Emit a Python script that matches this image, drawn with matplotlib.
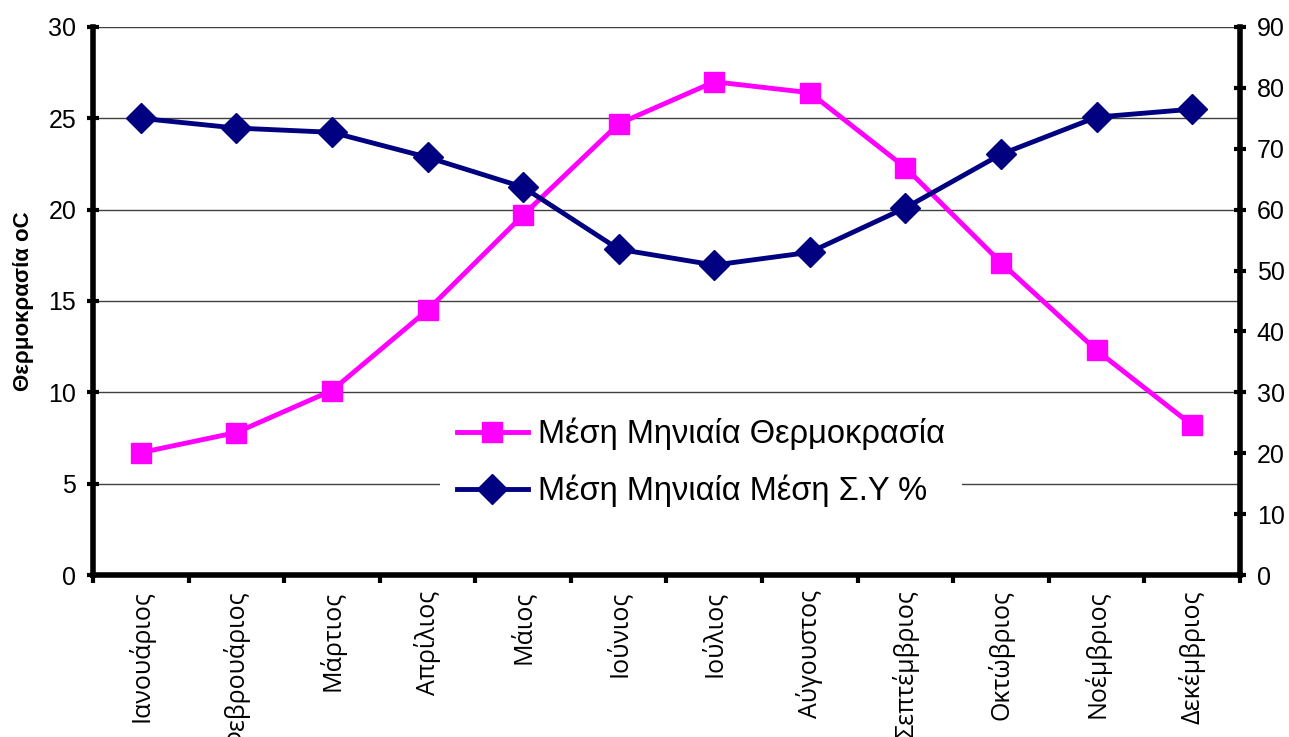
import numpy as np
import matplotlib.pyplot as plt
from matplotlib.ticker import MultipleLocator

# Μηνιαία δεδομένα
months = ['Ιανουάριος', 'Φεβρουάριος', 'Μάρτιος', 'Απρίλιος', 'Μάιος', 'Ιούνιος',
          'Ιούλιος', 'Αύγουστος', 'Σεπτέμβριος', 'Οκτώβριος', 'Νοέμβριος', 'Δεκέμβριος']
temperature = [6.7, 7.8, 10.1, 14.5, 19.7, 24.7, 27.0, 26.4, 22.3, 17.1, 12.3, 8.2]
humidity = [75.0, 73.4, 72.7, 68.6, 63.7, 53.5, 50.9, 53.0, 60.3, 69.1, 75.2, 76.5]

plt.rcParams['font.family'] = ['Liberation Sans', 'DejaVu Sans']

fig = plt.figure(figsize=(12.89, 7.37), dpi=100)
ax1 = fig.add_axes([0.0721, 0.2198, 0.8899, 0.7436])
ax2 = ax1.twinx()

x = np.arange(len(months))

l1, = ax1.plot(x, temperature, color='#FF00FF', lw=3.5, marker='s', ms=15,
               label='Μέση Μηνιαία Θερμοκρασία', zorder=3)
l2, = ax2.plot(x, humidity, color='#000080', lw=3.5, marker='D', ms=15,
               label='Μέση Μηνιαία Μέση Σ.Υ %', zorder=3)

ax1.set_xlim(-0.5, 11.5)
ax1.set_ylim(0, 30)
ax2.set_ylim(0, 90)
ax1.yaxis.set_major_locator(MultipleLocator(5))
ax2.yaxis.set_major_locator(MultipleLocator(10))

ax1.grid(axis='y', color='#404040', lw=1)
ax1.set_axisbelow(True)

# κατηγορίες στον άξονα x, γραμμές υποδιαίρεσης ανάμεσα
ax1.set_xticks(x)
ax1.set_xticklabels(months, rotation=90, va='top', ha='center',
                    family=['Open Sans', 'DejaVu Sans'], fontsize=18)
ax1.set_xticks(np.arange(-0.5, 12, 1), minor=True)
ax1.tick_params(axis='x', which='major', length=0, pad=11)
ax1.tick_params(axis='x', which='minor', length=6, width=3, direction='out')

ax1.tick_params(axis='y', labelsize=18, length=8, width=3, direction='inout', pad=8)
ax2.tick_params(axis='y', labelsize=18, length=8, width=3, direction='inout', pad=8)

for ax in (ax1, ax2):
    for side in ('left', 'right', 'bottom'):
        ax.spines[side].set_linewidth(4)
    ax.spines['top'].set_visible(False)
ax2.spines['left'].set_visible(False)
ax2.spines['bottom'].set_visible(False)
ax1.spines['right'].set_visible(False)

ax1.set_ylabel('Θερμοκρασία oC', fontsize=16, fontweight='bold', labelpad=10)

leg = ax2.legend(handles=[l1, l2], loc='center', bbox_to_anchor=(0.53, 0.205),
                 fontsize=23.5, frameon=True, framealpha=1, edgecolor='white',
                 handlelength=2.2, handletextpad=0.3, labelspacing=0.75,
                 borderpad=0.5)
leg.get_frame().set_linewidth(0)

fig.savefig('out.png', dpi=100)
